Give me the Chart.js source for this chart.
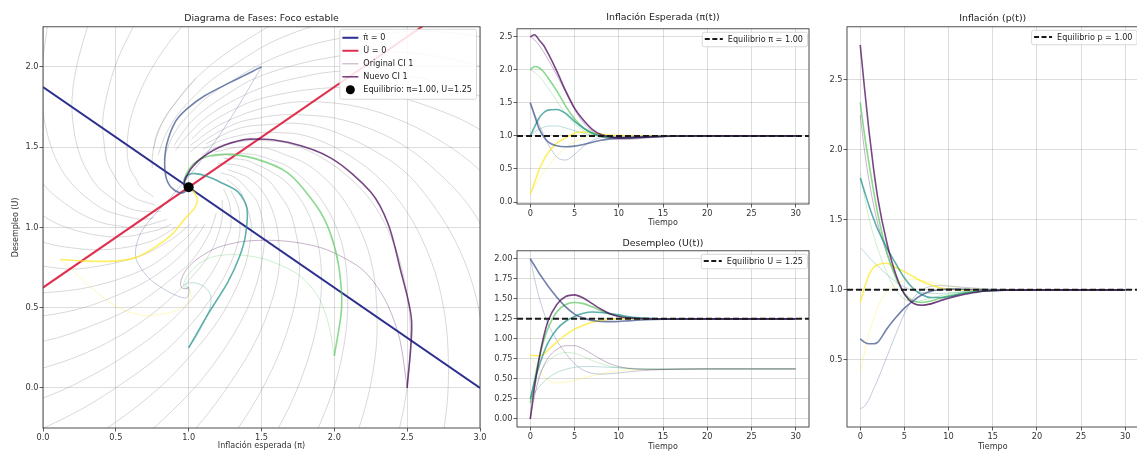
<!DOCTYPE html>
<html><head><meta charset="utf-8">
<script src="https://cdn.jsdelivr.net/npm/chart.js@4.4.1/dist/chart.umd.min.js"></script>
<style>
html,body{margin:0;padding:0;background:#fff;overflow:hidden;width:1137px;height:453px;}
canvas{position:absolute;}
</style></head><body>
<canvas id="c1" width="490" height="453" style="left:0;top:0;width:490px;height:453px"></canvas>
<canvas id="c2" width="345" height="228" style="left:470px;top:0;width:345px;height:228px"></canvas>
<canvas id="c3" width="345" height="225" style="left:470px;top:228px;width:345px;height:225px"></canvas>
<canvas id="c4" width="324" height="453" style="left:815px;top:0;width:324px;height:453px"></canvas>
<script>
// ---------------- DATA ----------------
const tiempo = [0, 0.5, 1, 1.5, 2, 3, 4, 5, 6, 7, 8, 9, 10, 11, 12, 14, 17, 20, 25, 30];

// Nuevo (solid) - pi(t)
const piNuevo1 = [2.50, 2.53, 2.45, 2.37, 2.25, 1.98, 1.68, 1.42, 1.24, 1.10, 1.02, 0.985, 0.97, 0.968, 0.972, 0.987, 0.998, 1.0, 1.0, 1.0];
const piNuevo2 = [1.50, 1.30, 1.11, 0.99, 0.91, 0.85, 0.835, 0.845, 0.87, 0.905, 0.935, 0.955, 0.968, 0.977, 0.984, 0.993, 0.998, 1.0, 1.0, 1.0];
const piNuevo3 = [1.00, 1.14, 1.27, 1.35, 1.39, 1.40, 1.34, 1.22, 1.12, 1.045, 1.0, 0.98, 0.97, 0.97, 0.975, 0.988, 0.998, 1.0, 1.0, 1.0];
const piNuevo4 = [2.00, 2.05, 2.03, 1.97, 1.88, 1.68, 1.45, 1.26, 1.12, 1.04, 0.995, 0.975, 0.97, 0.972, 0.977, 0.99, 0.998, 1.0, 1.0, 1.0];
const piNuevo5 = [0.12, 0.30, 0.49, 0.63, 0.74, 0.89, 0.97, 1.04, 1.06, 1.045, 1.025, 1.01, 1.005, 1.0, 0.999, 0.999, 1.0, 1.0, 1.0, 1.0];
// Nuevo - U(t)
const uNuevo1 = [0.00, 0.42, 0.75, 1.02, 1.22, 1.43, 1.53, 1.55, 1.51, 1.44, 1.37, 1.315, 1.28, 1.262, 1.254, 1.249, 1.249, 1.25, 1.25, 1.25];
const uNuevo2 = [2.00, 1.91, 1.82, 1.74, 1.66, 1.52, 1.40, 1.31, 1.26, 1.23, 1.218, 1.215, 1.218, 1.225, 1.232, 1.242, 1.248, 1.25, 1.25, 1.25];
const uNuevo3 = [0.25, 0.47, 0.66, 0.82, 0.95, 1.12, 1.22, 1.28, 1.32, 1.335, 1.33, 1.315, 1.30, 1.28, 1.265, 1.253, 1.249, 1.25, 1.25, 1.25];
const uNuevo4 = [0.20, 0.50, 0.76, 0.97, 1.13, 1.34, 1.43, 1.455, 1.44, 1.40, 1.35, 1.31, 1.285, 1.268, 1.258, 1.251, 1.249, 1.25, 1.25, 1.25];
const uNuevo5 = [0.80, 0.79, 0.79, 0.81, 0.86, 0.96, 1.05, 1.12, 1.17, 1.21, 1.23, 1.245, 1.25, 1.252, 1.252, 1.251, 1.25, 1.25, 1.25, 1.25];
// Nuevo - p(t)
const pNuevo1 = [2.75, 2.43, 2.13, 1.87, 1.65, 1.34, 1.115, 0.97, 0.905, 0.89, 0.90, 0.92, 0.94, 0.957, 0.97, 0.99, 0.998, 1.0, 1.0, 1.0];
const pNuevo2 = [0.65, 0.625, 0.615, 0.615, 0.627, 0.72, 0.80, 0.87, 0.922, 0.965, 0.99, 1.0, 1.005, 1.005, 1.003, 1.001, 1.0, 1.0, 1.0, 1.0];
const pNuevo3 = [1.80, 1.70, 1.60, 1.51, 1.43, 1.30, 1.19, 1.085, 1.01, 0.965, 0.945, 0.945, 0.952, 0.965, 0.977, 0.992, 0.999, 1.0, 1.0, 1.0];
const pNuevo4 = [2.34, 2.10, 1.90, 1.71, 1.54, 1.27, 1.09, 0.975, 0.92, 0.91, 0.92, 0.94, 0.957, 0.97, 0.98, 0.992, 0.999, 1.0, 1.0, 1.0];
const pNuevo5 = [0.91, 1.02, 1.11, 1.16, 1.18, 1.19, 1.16, 1.13, 1.095, 1.06, 1.035, 1.015, 1.005, 1.0, 0.999, 0.999, 1.0, 1.0, 1.0, 1.0];

// Original (faint) - pi(t)
const piOrig1 = [2.50, 2.45, 2.37, 2.27, 2.16, 1.92, 1.66, 1.40, 1.20, 1.07, 0.99, 0.955, 0.945, 0.947, 0.955, 0.977, 0.995, 1.0, 1.0, 1.0];
const piOrig2 = [1.50, 1.33, 1.17, 1.02, 0.88, 0.68, 0.635, 0.72, 0.84, 0.93, 0.975, 0.99, 0.995, 1.0, 1.002, 1.002, 1.0, 1.0, 1.0, 1.0];
const piOrig3 = [1.00, 1.06, 1.10, 1.13, 1.15, 1.15, 1.12, 1.08, 1.04, 1.01, 0.99, 0.98, 0.978, 0.982, 0.987, 0.995, 1.0, 1.0, 1.0, 1.0];
const piOrig4 = [2.00, 1.96, 1.90, 1.82, 1.73, 1.53, 1.33, 1.18, 1.08, 1.02, 0.985, 0.97, 0.965, 0.968, 0.975, 0.988, 0.997, 1.0, 1.0, 1.0];
const piOrig5 = [0.12, 0.24, 0.35, 0.45, 0.54, 0.70, 0.82, 0.91, 0.97, 1.0, 1.015, 1.015, 1.012, 1.008, 1.004, 1.0, 1.0, 1.0, 1.0, 1.0];
// Original - U(t)
const uOrig1 = [0.00, 0.30, 0.51, 0.66, 0.76, 0.87, 0.915, 0.915, 0.875, 0.81, 0.745, 0.69, 0.655, 0.633, 0.622, 0.617, 0.622, 0.625, 0.625, 0.625];
const uOrig2 = [2.00, 1.74, 1.52, 1.34, 1.19, 0.98, 0.82, 0.69, 0.61, 0.57, 0.56, 0.565, 0.575, 0.587, 0.598, 0.613, 0.622, 0.625, 0.625, 0.625];
const uOrig3 = [0.25, 0.33, 0.40, 0.46, 0.51, 0.58, 0.62, 0.645, 0.655, 0.655, 0.65, 0.645, 0.64, 0.635, 0.63, 0.627, 0.625, 0.625, 0.625, 0.625];
const uOrig4 = [0.20, 0.40, 0.55, 0.65, 0.72, 0.80, 0.83, 0.82, 0.78, 0.73, 0.69, 0.66, 0.64, 0.63, 0.624, 0.621, 0.624, 0.625, 0.625, 0.625];
const uOrig5 = [0.80, 0.70, 0.61, 0.54, 0.49, 0.45, 0.46, 0.48, 0.51, 0.54, 0.565, 0.585, 0.60, 0.61, 0.615, 0.62, 0.624, 0.625, 0.625, 0.625];
// Original - p(t)
const pOrig1 = [2.25, 1.985, 1.78, 1.61, 1.47, 1.26, 1.10, 0.97, 0.90, 0.89, 0.90, 0.925, 0.948, 0.967, 0.98, 0.995, 1.0, 1.0, 1.0, 1.0];
const pOrig2 = [0.15, 0.17, 0.22, 0.29, 0.36, 0.52, 0.68, 0.83, 0.94, 1.0, 1.025, 1.03, 1.028, 1.022, 1.017, 1.008, 1.002, 1.0, 1.0, 1.0];
const pOrig3 = [1.30, 1.27, 1.23, 1.20, 1.17, 1.11, 1.06, 1.02, 0.996, 0.981, 0.975, 0.974, 0.977, 0.983, 0.99, 0.996, 1.0, 1.0, 1.0, 1.0];
const pOrig4 = [1.84, 1.66, 1.51, 1.39, 1.29, 1.125, 1.0, 0.935, 0.915, 0.925, 0.94, 0.957, 0.97, 0.98, 0.988, 0.997, 1.0, 1.0, 1.0, 1.0];
const pOrig5 = [0.41, 0.56, 0.69, 0.79, 0.88, 0.99, 1.04, 1.07, 1.075, 1.067, 1.055, 1.04, 1.026, 1.016, 1.01, 1.004, 1.0, 1.0, 1.0, 1.0];

// Equilibrium and nullclines
const piEq = 1.00, uEq = 1.25, pEq = 1.00;
const piRecta = [0, 3];
const uNulaPi = [1.875, 0];     // pi-dot = 0
const uNulaU = [0.625, 2.5];    // U-dot = 0
const tSpan = [-1.5, 31.5];

// Ticks
const ticksFaseX = [0, 0.5, 1, 1.5, 2, 2.5, 3];
const ticksFaseY = [0, 0.5, 1, 1.5, 2];
const ticksT = [0, 5, 10, 15, 20, 25, 30];
const ticksPi = [0, 0.5, 1, 1.5, 2, 2.5];
const ticksU = [0, 0.25, 0.5, 0.75, 1, 1.25, 1.5, 1.75, 2];
const ticksP = [0.5, 1, 1.5, 2, 2.5];

// Streamlines of the phase field (pi, U)
const lineasFlujo = [
 [[1.05,1.93],[0.93,1.80],[0.84,1.69],[0.79,1.59],[0.76,1.50],[0.75,1.43],[0.75,1.37]],
 [[1.08,2.38],[0.88,2.17],[0.74,1.98],[0.65,1.81],[0.60,1.67],[0.58,1.55],[0.58,1.44],[0.60,1.36],[0.64,1.30],[0.67,1.25],[0.76,1.19]],
 [[0.63,2.27],[0.51,2.04],[0.44,1.83],[0.41,1.66],[0.42,1.52],[0.44,1.41],[0.49,1.32],[0.54,1.25],[0.60,1.20],[0.66,1.17],[0.77,1.14]],
 [[0.33,2.32],[0.24,2.04],[0.20,1.81],[0.21,1.62],[0.25,1.46],[0.31,1.34],[0.38,1.25],[0.46,1.19],[0.54,1.14],[0.62,1.11],[0.69,1.10],[0.81,1.10]],
 [[0.03,2.25],[-0.01,1.96],[0.00,1.72],[0.05,1.52],[0.12,1.37],[0.22,1.25],[0.32,1.17],[0.42,1.11],[0.52,1.08],[0.61,1.06],[0.69,1.05],[0.76,1.06]],
 [[-0.09,1.40],[0.02,1.25],[0.15,1.15],[0.27,1.08],[0.40,1.03],[0.51,1.01],[0.61,1.00],[0.70,1.01],[0.78,1.03],[0.85,1.05]],
 [[-0.08,1.12],[0.08,1.03],[0.23,0.98],[0.38,0.95],[0.51,0.94],[0.63,0.95],[0.72,0.97],[0.81,0.99],[0.88,1.02]],
 [[-0.16,0.97],[0.03,0.90],[0.22,0.87],[0.38,0.86],[0.53,0.87],[0.65,0.89],[0.76,0.92],[0.84,0.96],[0.91,1.00]],
 [[-0.25,0.80],[-0.01,0.76],[0.20,0.74],[0.39,0.76],[0.55,0.79],[0.69,0.83],[0.80,0.88],[0.89,0.93],[0.96,0.98],[1.01,1.02]],
 [[-0.04,0.59],[0.21,0.61],[0.42,0.65],[0.59,0.70],[0.74,0.76],[0.85,0.83],[0.94,0.90],[1.01,0.96],[1.06,1.02]],
 [[-0.29,0.43],[0.01,0.45],[0.28,0.50],[0.49,0.57],[0.68,0.65],[0.82,0.73],[0.93,0.81],[1.01,0.89],[1.07,0.96],[1.11,1.02]],
 [[-0.23,0.25],[0.09,0.31],[0.37,0.40],[0.59,0.49],[0.77,0.60],[0.91,0.70],[1.02,0.79],[1.09,0.88],[1.14,0.96],[1.17,1.03],[1.19,1.09]],
 [[-0.12,0.09],[0.22,0.19],[0.50,0.31],[0.72,0.44],[0.89,0.57],[1.02,0.69],[1.12,0.80],[1.18,0.90],[1.21,0.98],[1.23,1.06],[1.23,1.17]],
 [[-0.38,-0.17],[0.04,-0.05],[0.38,0.10],[0.66,0.26],[0.87,0.41],[1.03,0.56],[1.14,0.69],[1.22,0.82],[1.26,0.92],[1.29,1.01],[1.28,1.15],[1.24,1.24]],
 [[-0.16,-0.32],[0.25,-0.14],[0.58,0.05],[0.84,0.23],[1.03,0.41],[1.17,0.58],[1.26,0.72],[1.32,0.85],[1.35,0.96],[1.35,1.05],[1.34,1.13],[1.29,1.23]],
 [[0.09,-0.45],[0.49,-0.22],[0.81,0.01],[1.04,0.23],[1.21,0.43],[1.32,0.61],[1.39,0.77],[1.42,0.90],[1.43,1.01],[1.41,1.10],[1.38,1.17],[1.35,1.23],[1.26,1.30]],
 [[0.39,-0.53],[0.76,-0.25],[1.05,0.01],[1.25,0.25],[1.39,0.47],[1.47,0.66],[1.51,0.83],[1.52,0.96],[1.50,1.07],[1.47,1.16],[1.42,1.22],[1.32,1.31],[1.22,1.34]],
 [[0.72,-0.56],[1.06,-0.24],[1.30,0.05],[1.47,0.31],[1.57,0.54],[1.62,0.74],[1.62,0.90],[1.60,1.03],[1.56,1.14],[1.51,1.22],[1.45,1.28],[1.39,1.32],[1.27,1.36]],
 [[1.07,-0.57],[1.37,-0.21],[1.57,0.11],[1.69,0.39],[1.75,0.63],[1.76,0.82],[1.73,0.99],[1.69,1.11],[1.62,1.21],[1.55,1.29],[1.47,1.34],[1.40,1.37],[1.32,1.39],[1.20,1.40]],
 [[1.45,-0.51],[1.69,-0.12],[1.83,0.21],[1.90,0.50],[1.91,0.74],[1.88,0.93],[1.82,1.09],[1.74,1.21],[1.66,1.29],[1.56,1.35],[1.47,1.39],[1.39,1.42],[1.24,1.43]],
 [[1.82,-0.40],[2.00,0.01],[2.08,0.35],[2.09,0.64],[2.06,0.87],[1.99,1.05],[1.89,1.20],[1.79,1.30],[1.68,1.38],[1.57,1.42],[1.47,1.45],[1.37,1.46],[1.29,1.46],[1.16,1.44]],
 [[1.97,-0.70],[2.18,-0.22],[2.28,0.19],[2.29,0.53],[2.25,0.80],[2.16,1.02],[2.05,1.19],[1.93,1.31],[1.80,1.40],[1.67,1.45],[1.55,1.49],[1.44,1.50],[1.34,1.50],[1.18,1.47]],
 [[2.39,-0.48],[2.50,0.00],[2.52,0.40],[2.47,0.72],[2.37,0.98],[2.24,1.18],[2.09,1.32],[1.94,1.42],[1.79,1.49],[1.65,1.53],[1.52,1.54],[1.40,1.54],[1.22,1.51],[1.09,1.45]],
 [[2.62,-0.77],[2.76,-0.21],[2.78,0.25],[2.72,0.63],[2.60,0.93],[2.45,1.16],[2.28,1.33],[2.10,1.45],[1.93,1.53],[1.76,1.58],[1.61,1.59],[1.47,1.59],[1.25,1.55],[1.10,1.49]],
 [[3.05,0.10],[2.98,0.54],[2.85,0.88],[2.67,1.15],[2.48,1.35],[2.27,1.48],[2.07,1.57],[1.88,1.63],[1.70,1.65],[1.54,1.64],[1.41,1.63],[1.29,1.60],[1.12,1.52]],
 [[3.12,0.83],[2.92,1.14],[2.69,1.36],[2.46,1.52],[2.23,1.62],[2.01,1.68],[1.80,1.70],[1.62,1.70],[1.47,1.68],[1.33,1.65],[1.14,1.56],[1.01,1.47]],
 [[3.23,1.12],[2.97,1.38],[2.69,1.56],[2.42,1.68],[2.17,1.75],[1.93,1.78],[1.72,1.78],[1.54,1.75],[1.39,1.71],[1.26,1.66],[1.16,1.61],[1.01,1.51]],
 [[3.30,1.40],[2.98,1.62],[2.66,1.75],[2.36,1.83],[2.09,1.87],[1.84,1.86],[1.63,1.83],[1.45,1.79],[1.30,1.73],[1.18,1.67],[1.09,1.61],[1.02,1.55]],
 [[3.31,1.68],[2.94,1.84],[2.59,1.93],[2.27,1.97],[1.99,1.97],[1.74,1.93],[1.53,1.88],[1.35,1.81],[1.21,1.74],[1.10,1.67],[1.02,1.60],[0.96,1.54],[0.91,1.48]],
 [[3.25,1.93],[2.85,2.04],[2.48,2.09],[2.15,2.08],[1.86,2.04],[1.61,1.98],[1.41,1.91],[1.25,1.82],[1.12,1.74],[1.02,1.66],[0.95,1.58],[0.90,1.51]],
 [[3.14,2.17],[2.71,2.22],[2.33,2.21],[1.99,2.17],[1.71,2.10],[1.48,2.01],[1.29,1.91],[1.14,1.82],[1.02,1.72],[0.94,1.64],[0.88,1.55],[0.85,1.48],[0.83,1.42]],
 [[2.17,2.33],[1.84,2.25],[1.56,2.15],[1.34,2.03],[1.16,1.92],[1.03,1.81],[0.93,1.71],[0.86,1.61],[0.82,1.53],[0.79,1.45]],
 [[1.66,2.31],[1.40,2.17],[1.19,2.04],[1.03,1.91],[0.92,1.79],[0.83,1.67],[0.78,1.58],[0.76,1.49]]
];

const colores = ['#440154', '#3b528b', '#21918c', '#5ec962', '#fde725'];

// ---------------- HELPERS ----------------
Chart.defaults.font.family = "'DejaVu Sans', 'Liberation Sans', sans-serif";
Chart.defaults.color = '#333';
const FONT = "'DejaVu Sans', sans-serif";
const gridColor = 'rgba(160,160,160,0.45)';
const TICK = 8.2, LAB = 8, TIT = 9.4, LEG = 8.1;

function rgba(hex, a){
  const n = parseInt(hex.slice(1), 16);
  return 'rgba(' + (n >> 16 & 255) + ',' + (n >> 8 & 255) + ',' + (n & 255) + ',' + a + ')';
}
const marco = {
  id: 'marco',
  afterDatasetsDraw(chart){
    const a = chart.chartArea, ctx = chart.ctx;
    ctx.save(); ctx.strokeStyle = '#3a3a3a'; ctx.lineWidth = 0.9;
    ctx.strokeRect(a.left, a.top, a.right - a.left, a.bottom - a.top);
    ctx.restore();
  }
};
const cajaLeyenda = {
  id: 'cajaLeyenda',
  afterDraw(chart, args, o){
    if (!o || !o.items) return;
    const ctx = chart.ctx, a = chart.chartArea;
    ctx.save();
    ctx.font = o.fontSize + 'px ' + FONT;
    let mw = 0; o.items.forEach(it => { mw = Math.max(mw, ctx.measureText(it.label).width); });
    const padX = 3, padY = o.padY, hl = o.handle, gap = 5;
    const w = padX + hl + gap + mw + padX + 1, h = padY * 2 + o.rowH * o.items.length;
    const x = a.right - o.dx - w, y = a.top + o.dy;
    ctx.fillStyle = 'rgba(255,255,255,0.85)'; ctx.strokeStyle = '#cfcfcf'; ctx.lineWidth = 0.8;
    ctx.beginPath(); ctx.roundRect(x + 0.5, y + 0.5, w, h, 2); ctx.fill(); ctx.stroke();
    o.items.forEach((it, i) => {
      const cy = y + padY + o.rowH * (i + 0.5);
      if (it.dot){
        ctx.fillStyle = it.color; ctx.beginPath(); ctx.arc(x + padX + hl / 2, cy, 4.5, 0, Math.PI * 2); ctx.fill();
      } else {
        ctx.strokeStyle = it.color; ctx.lineWidth = it.width; ctx.setLineDash(it.dash || []);
        ctx.beginPath(); ctx.moveTo(x + padX, cy); ctx.lineTo(x + padX + hl, cy); ctx.stroke(); ctx.setLineDash([]);
      }
      ctx.fillStyle = '#222'; ctx.textBaseline = 'middle'; ctx.textAlign = 'left';
      ctx.fillText(it.label, x + padX + hl + gap, cy + 0.5);
    });
    ctx.restore();
  }
};
Chart.register(marco, cajaLeyenda);

function eje(kind, min, max, tks, fmt, titulo, size, tPad){
  return {
    type: 'linear', min: min, max: max,
    afterBuildTicks: s => { s.ticks = tks.map(v => ({value: v})); },
    afterFit: s => { if (kind === 'x') s.height = size; else s.width = size; },
    grid: {color: gridColor, lineWidth: 0.8, drawTicks: true, tickLength: 3.5, tickColor: '#333', tickWidth: 0.8},
    border: {display: false},
    ticks: {font: {size: TICK}, color: '#333', padding: 1, maxRotation: 0, autoSkip: false, callback: v => fmt(v)},
    title: {display: !!titulo, text: titulo || '', font: {size: LAB}, color: '#333', padding: tPad}
  };
}
function opciones(titulo, tPad, pad, sx, sy, leyenda){
  return {
    responsive: false, animation: false, events: [],
    layout: {padding: pad},
    plugins: {
      legend: {display: false}, tooltip: {enabled: false},
      title: {display: true, text: titulo, font: {size: TIT, weight: 'normal'}, color: '#222', padding: tPad, fullSize: false},
      cajaLeyenda: leyenda
    },
    scales: {x: sx, y: sy}
  };
}
function linea(pts, color, w, order, tension, dash){
  return {data: pts, borderColor: color, borderWidth: w, pointRadius: 0, showLine: true, fill: false,
          tension: tension, order: order, clip: 0, borderDash: dash || []};
}
function serieT(arr){ return tiempo.map((t, i) => ({x: t, y: arr[i]})); }
function fase(pis, us){ return pis.map((v, i) => ({x: v, y: us[i]})); }
function monotona(ds){ ds.cubicInterpolationMode = 'monotone'; return ds; }

const piN = [piNuevo1, piNuevo2, piNuevo3, piNuevo4, piNuevo5];
const uN = [uNuevo1, uNuevo2, uNuevo3, uNuevo4, uNuevo5];
const pN = [pNuevo1, pNuevo2, pNuevo3, pNuevo4, pNuevo5];
const piO = [piOrig1, piOrig2, piOrig3, piOrig4, piOrig5];
const uO = [uOrig1, uOrig2, uOrig3, uOrig4, uOrig5];
const pO = [pOrig1, pOrig2, pOrig3, pOrig4, pOrig5];

const f1 = v => v.toFixed(1), f2 = v => v.toFixed(2), f0 = v => String(v);

// ---------------- PANEL 1: phase diagram ----------------
(function(){
  const ds = [];
  ds.push({type: 'scatter', data: [{x: piEq, y: uEq}], pointRadius: 5, pointBackgroundColor: '#000', pointBorderWidth: 0, showLine: false, order: 0, clip: 0});
  for (let i = 0; i < 5; i++) ds.push(linea(fase(piN[i], uN[i]), rgba(colores[i], 0.72), 1.6, 1, 0.3));
  ds.push(linea(fase(piRecta, uNulaPi), '#2d2f8f', 2, 2, 0));
  ds.push(linea(fase(piRecta, uNulaU), '#e0304f', 2, 2, 0));
  for (let i = 0; i < 5; i++) ds.push(linea(fase(piO[i], uO[i]), rgba(colores[i], 0.3), 1, 3, 0.3));
  lineasFlujo.forEach(l => ds.push(linea(l.map(p => ({x: p[0], y: p[1]})), 'rgba(140,140,140,0.33)', 1, 4, 0.35)));
  new Chart(document.getElementById('c1'), {
    type: 'scatter',
    data: {datasets: ds},
    options: opciones('Diagrama de Fases: Foco estable', {top: 13, bottom: 2.5}, {left: 0, right: 10, top: 0, bottom: 0},
      eje('x', 0, 3, ticksFaseX, f1, 'Inflación esperada (π)', 25, {top: 0, bottom: 2}),
      eje('y', -0.25, 2.25, ticksFaseY, f1, 'Desempleo (U)', 43, {top: 11, bottom: 0}),
      {fontSize: LEG, rowH: 13, padY: 2.5, handle: 16, dx: 4, dy: 2, items: [
        {label: 'π̇ = 0', color: '#2d2f8f', width: 2},
        {label: 'U̇ = 0', color: '#e0304f', width: 2},
        {label: 'Original CI 1', color: rgba(colores[0], 0.3), width: 1.2},
        {label: 'Nuevo CI 1', color: rgba(colores[0], 0.72), width: 1.6},
        {label: 'Equilibrio: π=1.00, U=1.25', color: '#000', dot: true}
      ]})
  });
})();

// ---------------- Time panels ----------------
function panelTiempo(id, titulo, tPad, pad, yMin, yMax, yTicks, yFmt, yW, xH, xTitPad, nuevos, orig, eqVal, eqLabel){
  const ds = [];
  ds.push(linea([{x: tSpan[0], y: eqVal}, {x: tSpan[1], y: eqVal}], '#1a1a1a', 2, 0, 0, [6, 3]));
  for (let i = 0; i < 5; i++) ds.push(monotona(linea(serieT(nuevos[i]), rgba(colores[i], 0.72), 1.6, 1, 0)));
  for (let i = 0; i < 5; i++) ds.push(monotona(linea(serieT(orig[i]), rgba(colores[i], 0.3), 1, 2, 0)));
  new Chart(document.getElementById(id), {
    type: 'scatter',
    data: {datasets: ds},
    options: opciones(titulo, tPad, pad,
      eje('x', tSpan[0], tSpan[1], ticksT, f0, 'Tiempo', xH, {top: 0, bottom: xTitPad}),
      eje('y', yMin, yMax, yTicks, yFmt, '', yW, {top: 0, bottom: 0}),
      {fontSize: LEG, rowH: 12.5, padY: 1, handle: 18, dx: 2, dy: 3, items: [
        {label: eqLabel, color: '#1a1a1a', width: 2, dash: [5, 2.5]}
      ]})
  });
}
panelTiempo('c2', 'Inflación Esperada (π(t))', {top: 11.5, bottom: 6}, {left: 0, right: 6, top: 0, bottom: 0},
  -0.03, 2.62, ticksPi, f1, 47, 24, 0.5, piN, piO, piEq, 'Equilibrio π = 1.00');
panelTiempo('c3', 'Desempleo (U(t))', {top: 9.5, bottom: 2}, {left: 0, right: 6, top: 0, bottom: 0},
  -0.1, 2.1, ticksU, f2, 47, 26, 1.5, uN, uO, uEq, 'Equilibrio U = 1.25');
panelTiempo('c4', 'Inflación (p(t))', {top: 13, bottom: 2.5}, {left: 0, right: 0.5, top: 0, bottom: 0},
  0.02, 2.88, ticksP, f1, 32, 26, 1.5, pN, pO, pEq, 'Equilibrio p = 1.00');
</script>
</body></html>
